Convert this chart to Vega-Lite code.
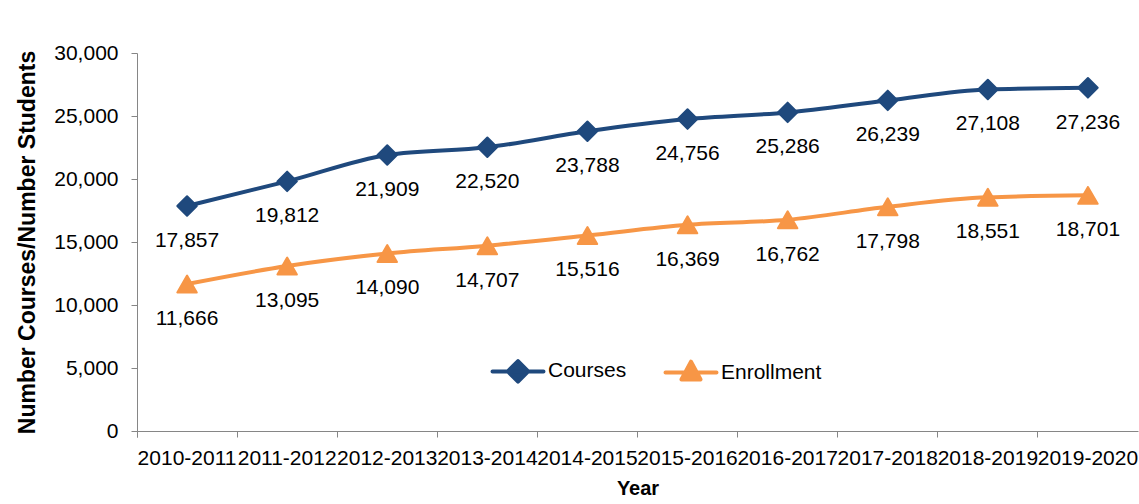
{
  "$schema": "https://vega.github.io/schema/vega-lite/v6.json",
  "width": 1001,
  "height": 378,
  "autosize": {"type": "none"},
  "padding": {"left": 137, "top": 53, "right": 1, "bottom": 73},
  "config": {
    "font": "Liberation Sans",
    "view": {"stroke": null},
    "axis": {"grid": false, "domainColor": "#868686", "tickColor": "#868686", "labelColor": "#000000", "titleColor": "#000000", "labelFont": "Liberation Sans", "titleFont": "Liberation Sans", "labelFontSize": 21, "titleFontSize": 20, "titleFontWeight": "bold", "tickSize": 6}
  },
  "data": {
    "values": [
      {"year": "2010-2011", "series": "Courses", "value": 17857},
      {"year": "2011-2012", "series": "Courses", "value": 19812},
      {"year": "2012-2013", "series": "Courses", "value": 21909},
      {"year": "2013-2014", "series": "Courses", "value": 22520},
      {"year": "2014-2015", "series": "Courses", "value": 23788},
      {"year": "2015-2016", "series": "Courses", "value": 24756},
      {"year": "2016-2017", "series": "Courses", "value": 25286},
      {"year": "2017-2018", "series": "Courses", "value": 26239},
      {"year": "2018-2019", "series": "Courses", "value": 27108},
      {"year": "2019-2020", "series": "Courses", "value": 27236},
      {"year": "2010-2011", "series": "Enrollment", "value": 11666},
      {"year": "2011-2012", "series": "Enrollment", "value": 13095},
      {"year": "2012-2013", "series": "Enrollment", "value": 14090},
      {"year": "2013-2014", "series": "Enrollment", "value": 14707},
      {"year": "2014-2015", "series": "Enrollment", "value": 15516},
      {"year": "2015-2016", "series": "Enrollment", "value": 16369},
      {"year": "2016-2017", "series": "Enrollment", "value": 16762},
      {"year": "2017-2018", "series": "Enrollment", "value": 17798},
      {"year": "2018-2019", "series": "Enrollment", "value": 18551},
      {"year": "2019-2020", "series": "Enrollment", "value": 18701}
    ]
  },
  "encoding": {
    "x": {
      "field": "year", "type": "nominal",
      "scale": {"type": "band", "paddingInner": 0, "paddingOuter": 0},
      "axis": {"title": "Year", "labelAngle": 0, "labelOverlap": false, "labelBound": false, "bandPosition": 0, "tickExtra": true, "labelFontSize": 21, "labelPadding": 10, "titlePadding": 10}
    },
    "y": {
      "field": "value", "type": "quantitative",
      "scale": {"domain": [0, 30000]},
      "axis": {"title": "Number Courses/Number Students", "titleFontSize": 23, "values": [0, 5000, 10000, 15000, 20000, 25000, 30000], "labelExpr": "format(datum.value, ',')", "labelPadding": 13, "titlePadding": 14}
    }
  },
  "layer": [
    {
      "mark": {"type": "line", "strokeWidth": 4, "interpolate": "monotone"},
      "encoding": {
        "color": {
          "field": "series", "type": "nominal",
          "scale": {"domain": ["Courses", "Enrollment"], "range": ["#1F497D", "#F79646"]},
          "legend": {
            "title": null, "orient": "none", "direction": "horizontal",
            "legendX": 366, "legendY": 303,
            "labelFontSize": 21, "labelColor": "#000000", "labelFont": "Liberation Sans",
            "symbolSize": 650, "symbolStrokeWidth": 4, "columnPadding": 36, "labelOffset": 15,
            "encode": {
              "symbols": {
                "update": {
                  "shape": {"signal": "datum.value === 'Courses' ? 'M-2,0H2M0,-0.8L0.8,0L0,0.8L-0.8,0Z' : 'M-2,0H2M0,-0.85L0.75,0.55L-0.75,0.55Z'"},
                  "fill": {"scale": "color", "field": "value"},
                  "stroke": {"scale": "color", "field": "value"},
                  "strokeWidth": {"value": 4},
                  "strokeJoin": {"value": "round"},
                  "strokeCap": {"value": "round"}
                }
              }
            }
          }
        }
      }
    },
    {
      "transform": [{"filter": "datum.series === 'Courses'"}],
      "mark": {"type": "point", "shape": "diamond", "filled": true, "opacity": 1, "size": 380, "color": "#1F497D", "stroke": "#1F497D", "strokeWidth": 2, "strokeJoin": "round"}
    },
    {
      "transform": [{"filter": "datum.series === 'Enrollment'"}],
      "mark": {"type": "point", "shape": "triangle-up", "filled": true, "opacity": 1, "size": 380, "color": "#F79646", "stroke": "#F79646", "strokeWidth": 2, "strokeJoin": "round"}
    },
    {
      "mark": {"type": "text", "dy": 35, "fontSize": 21, "font": "Liberation Sans", "color": "#000000", "baseline": "middle"},
      "encoding": {
        "text": {"field": "value", "type": "quantitative", "format": ","}
      }
    }
  ]
}
